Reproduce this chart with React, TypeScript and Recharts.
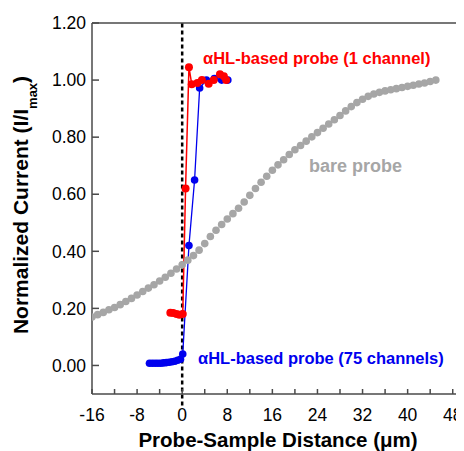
import React from 'react';
import { ComposedChart, Line, XAxis, YAxis, ReferenceLine, Label } from 'recharts';

const bareX = [-16, -15, -14, -13, -12, -11, -10, -9, -8, -7, -6, -5, -4, -3, -2, -1, 0, 1, 2, 3, 4, 5, 6, 7, 8, 9, 10, 11, 12, 13, 14, 15, 16, 17, 18, 19, 20, 21, 22, 23, 24, 25, 26, 27, 28, 29, 30, 31, 32, 33, 34, 35, 36, 37, 38, 39, 40, 41, 42, 43, 44, 45];
const bareY = [0.170, 0.178, 0.186, 0.195, 0.203, 0.213, 0.224, 0.235, 0.247, 0.259, 0.271, 0.283, 0.296, 0.309, 0.323, 0.338, 0.353, 0.369, 0.385, 0.404, 0.427, 0.452, 0.474, 0.494, 0.513, 0.532, 0.551, 0.573, 0.596, 0.620, 0.642, 0.663, 0.684, 0.703, 0.721, 0.739, 0.756, 0.771, 0.786, 0.801, 0.816, 0.831, 0.846, 0.861, 0.876, 0.892, 0.907, 0.921, 0.933, 0.943, 0.951, 0.957, 0.962, 0.966, 0.970, 0.974, 0.978, 0.982, 0.986, 0.990, 0.995, 1.000];

const redX = [-2.1, -1.6, -1.0, -0.5, 0.1, 0.6, 1.2, 1.7, 2.7, 3.5, 4.7, 5.6, 6.7, 7.4, 7.8];
const redY = [0.185, 0.184, 0.180, 0.178, 0.180, 0.620, 1.045, 0.985, 0.990, 1.000, 0.987, 1.000, 1.020, 1.013, 1.000];

const blueX = [-5.8, -5.3, -4.8, -4.3, -3.8, -3.3, -2.8, -2.3, -1.8, -1.3, -0.8, -0.3, 0.1, 1.2, 2.2, 3.1, 4.3, 5.7, 7.0, 8.1];
const blueY = [0.008, 0.008, 0.008, 0.008, 0.008, 0.009, 0.010, 0.011, 0.013, 0.015, 0.018, 0.022, 0.040, 0.420, 0.650, 0.972, 1.000, 1.005, 1.000, 1.000];

const xTicks = [-16, -12, -8, -4, 0, 4, 8, 12, 16, 20, 24, 28, 32, 36, 40, 44, 48];
const xLabelTicks = [-16, -8, 0, 8, 16, 24, 32, 40, 48];
const yTicks = [0, 0.2, 0.4, 0.6, 0.8, 1.0, 1.2];

const toRows = (xs: number[], ys: number[]) => xs.map((x, i) => ({ x, y: ys[i] }));
const bareData = toRows(bareX, bareY);
const redData = toRows(redX, redY);
const blueData = toRows(blueX, blueY);

const FONT = '"Liberation Sans", Arial, sans-serif';
const AXIS = '#4a4a4a';
const RED = '#ff0000';
const BLUE = '#0000ee';
const GRAY = '#a6a6a6';

export default function App() {
  return (
    <div style={{ position: 'relative', width: 464, height: 451, marginTop: -8, marginLeft: -8, fontFamily: FONT }}>
      <ComposedChart width={464} height={451} margin={{ top: 23, right: 0, bottom: 0, left: 0 }}>
        <XAxis
          dataKey="x"
          type="number"
          domain={[-16, 50]}
          allowDataOverflow
          ticks={xTicks}
          interval={0}
          tickFormatter={(v: number) => (xLabelTicks.includes(v) ? String(v) : '')}
          height={57}
          tickSize={-5}
          tickMargin={20}
          stroke={AXIS}
          strokeWidth={1.5}
          tick={{ fill: '#000', fontSize: 17.5, fontFamily: FONT }}
        >
          <Label
            value="Probe-Sample Distance (μm)"
            position="insideBottom"
            offset={4}
            style={{ fontSize: 20.5, fontWeight: 'bold', fill: '#000', fontFamily: FONT }}
          />
        </XAxis>
        <YAxis
          dataKey="y"
          type="number"
          domain={[-0.1, 1.2]}
          allowDataOverflow
          ticks={yTicks}
          interval={0}
          tickFormatter={(v: number) => v.toFixed(2)}
          width={92}
          tickSize={-7}
          tickMargin={13}
          stroke={AXIS}
          strokeWidth={1.5}
          tick={{ fill: '#000', fontSize: 17.5, fontFamily: FONT }}
        />
        <ReferenceLine y={1.2} stroke={AXIS} strokeWidth={1.5} ifOverflow="visible" />
        <Line
          data={bareData}
          dataKey="y"
          stroke="none"
          isAnimationActive={false}
          dot={{ r: 3.8, fill: GRAY, stroke: 'none' }}
          activeDot={false}
        />
        <ReferenceLine
          segment={[{ x: 0, y: -0.14 }, { x: 0, y: 1.2 }]}
          stroke="#000"
          strokeWidth={2.5}
          strokeDasharray="4 3"
          ifOverflow="visible"
        />
        <Line
          data={blueData}
          dataKey="y"
          stroke={BLUE}
          strokeWidth={1.3}
          isAnimationActive={false}
          dot={{ r: 3.8, fill: BLUE, stroke: 'none' }}
          activeDot={false}
        />
        <Line
          data={redData}
          dataKey="y"
          stroke={RED}
          strokeWidth={1.5}
          isAnimationActive={false}
          dot={{ r: 4, fill: RED, stroke: 'none' }}
          activeDot={false}
        />
      </ComposedChart>
      <svg
        width={464}
        height={451}
        style={{ position: 'absolute', left: 0, top: 0, pointerEvents: 'none' }}
        fontFamily={FONT}
        fontWeight="bold"
      >
        <text
          transform="translate(28,205) rotate(-90)"
          textAnchor="middle"
          fontSize={21}
          fill="#000"
        >
          Normalized Current (I/I
          <tspan fontSize={13} dy={9}>max</tspan>
          <tspan dy={-9}>)</tspan>
        </text>
        <text x={203} y={63.5} fontSize={16.5} fill={RED}>αHL-based probe (1 channel)</text>
        <text x={309} y={171.5} fontSize={18} fill={GRAY}>bare probe</text>
        <text x={198} y={364} fontSize={16.5} fill={BLUE}>αHL-based probe (75 channels)</text>
      </svg>
    </div>
  );
}
